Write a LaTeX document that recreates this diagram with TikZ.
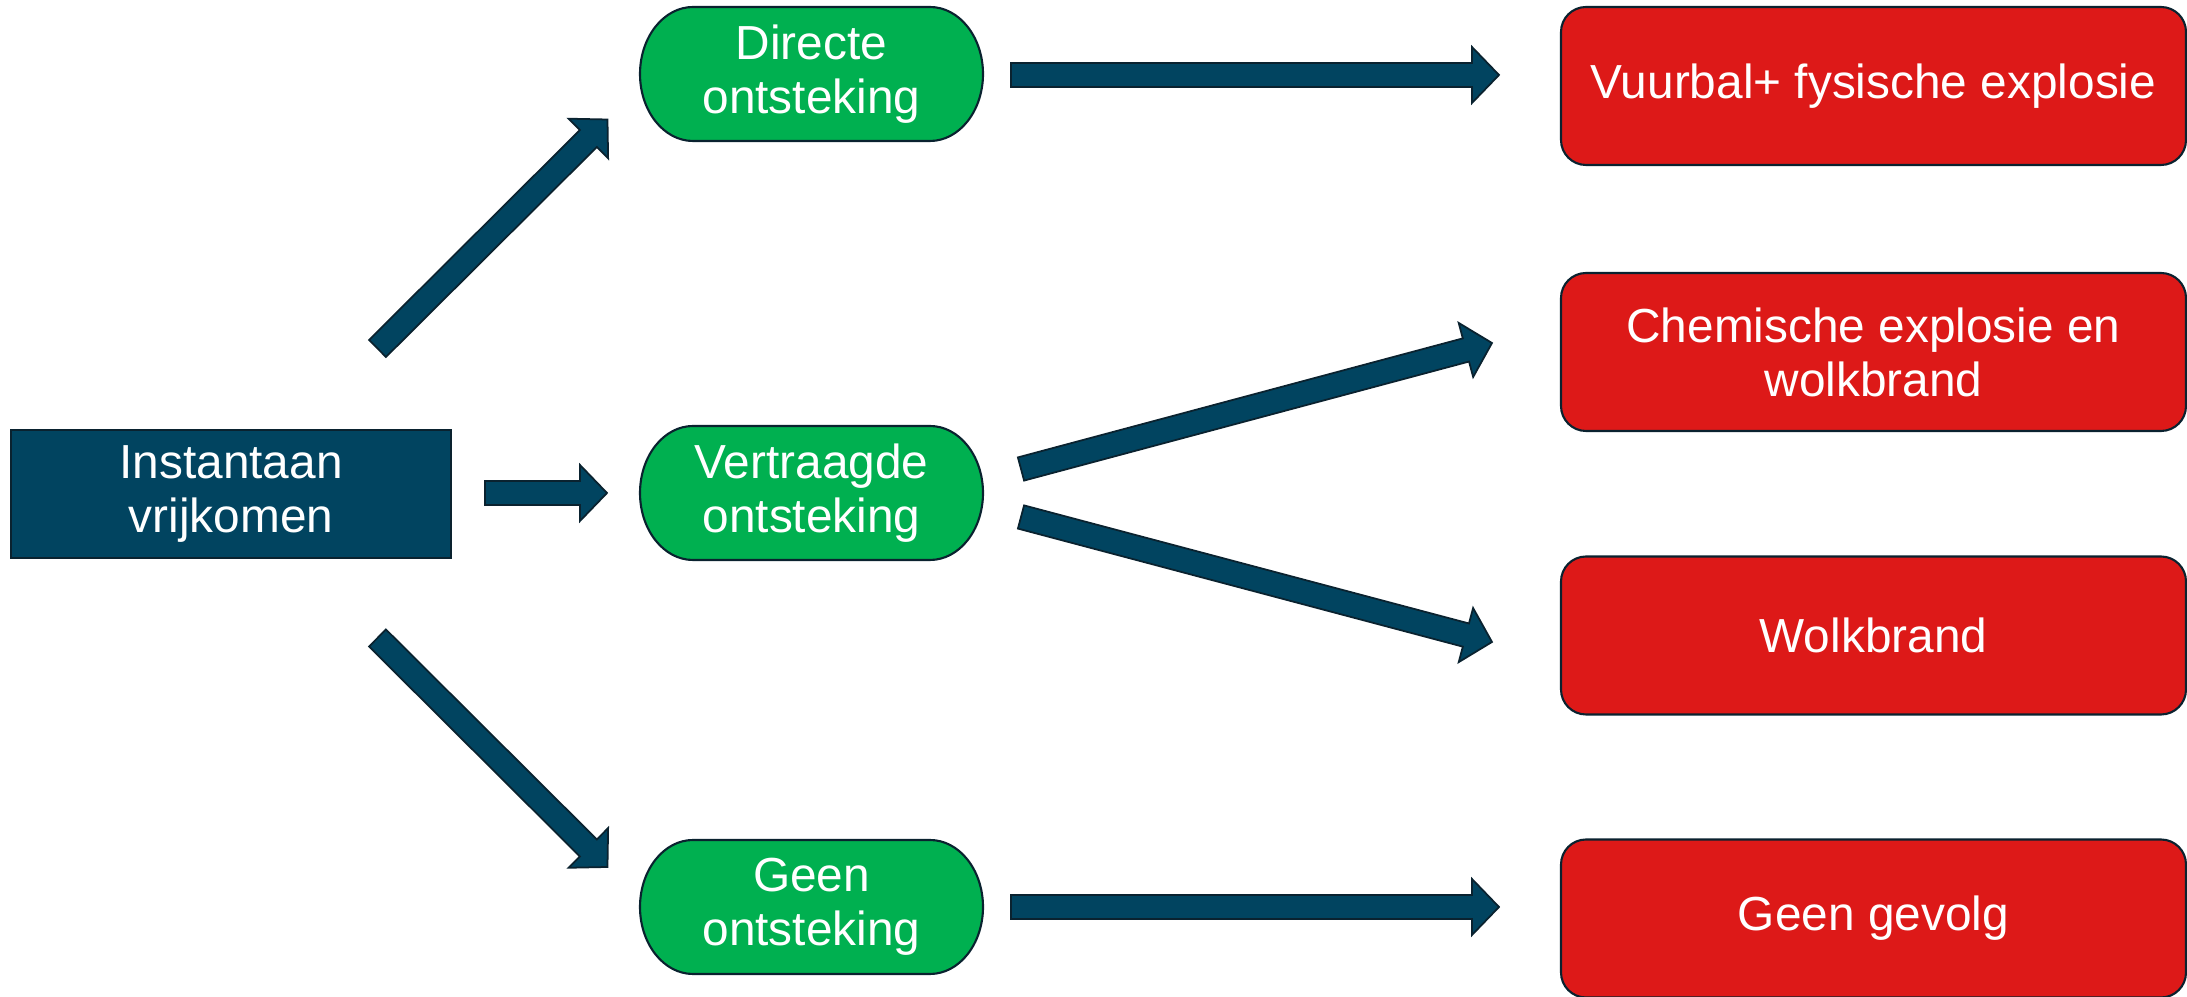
\documentclass[tikz,border=0pt]{standalone}
\usepackage{fontspec}
\setmainfont{Liberation Sans}
\usetikzlibrary{calc,positioning,backgrounds}
\definecolor{navy}{RGB}{1,68,96}
\definecolor{edgeline}{RGB}{10,34,47}
\definecolor{ignite}{RGB}{0,176,80}
\definecolor{effect}{RGB}{221,25,24}
\tikzset{
    every node/.style={font=\fontsize{13.6}{15.4}\selectfont, text=white, align=center, inner sep=0pt, outer sep=0pt},
    release/.style={rectangle, draw=edgeline, fill=navy, line width=0.6pt, minimum width=4.4cm, minimum height=1.28cm},
    ignition/.style={rectangle, minimum width=3.43cm, minimum height=1.34cm},
    ignitionshape/.style={draw=edgeline, fill=ignite, line width=0.6pt},
    outcome/.style={rectangle, rounded corners=0.25cm, draw=edgeline, fill=effect, line width=0.6pt, minimum width=6.25cm, minimum height=1.58cm},
    fat/.style={draw=edgeline, fill=navy, line width=0.5pt, line join=miter}
}
% block arrow from #1 to #2
\newcommand{\blockarrow}[2]{%
    \coordinate (h) at ($(#2)!0.27cm!(#1)$);
    \draw[fat] ($(#1)!0.12cm!90:(#2)$) -- ($(h)!0.12cm!-90:(#1)$) -- ($(h)!0.28cm!-90:(#1)$) -- (#2)
        -- ($(h)!0.28cm!90:(#1)$) -- ($(h)!0.12cm!90:(#1)$) -- ($(#1)!0.12cm!-90:(#2)$) -- cycle;}

\begin{document}
\begin{tikzpicture}
\useasboundingbox (0,0) rectangle (21.87,-9.97);
\node[release](src) at (2.31,-4.94){Instantaan\\vrijkomen};
\node[ignition](direct) at (8.115,-0.74){Directe\\ontsteking};
\node[ignition](delay) at (8.115,-4.93){Vertraagde\\ontsteking};
\node[ignition](none) at (8.115,-9.07){Geen\\ontsteking};
\node[outcome](fire) at (18.735,-0.86){Vuurbal+ fysische explosie};
\node[outcome](chem) at (18.735,-3.52){Chemische explosie en\\wolkbrand};
\node[outcome](cloud) at (18.735,-6.355){Wolkbrand};
\node[outcome](nothing) at (18.735,-9.185){Geen gevolg};
\begin{scope}[on background layer]
\foreach \n in {direct,delay,none}
    \draw[ignitionshape] ($(\n.north west)+(0.53,0)$) -- ($(\n.north east)+(-0.53,0)$)
        arc[start angle=90,end angle=-90,x radius=0.53cm,y radius=0.67cm]
        -- ($(\n.south west)+(0.53,0)$)
        arc[start angle=270,end angle=90,x radius=0.53cm,y radius=0.67cm] -- cycle;
\end{scope}
% arrow ends
\coordinate (a1s) at (3.775,-3.485); \coordinate (a1t) at (6.075,-1.195);
\coordinate (a2s) at (4.85,-4.93);   \coordinate (a2t) at (6.07,-4.93);
\coordinate (a3s) at (3.775,-6.38);  \coordinate (a3t) at (6.075,-8.67);
\coordinate (a4s) at (10.11,-0.75);  \coordinate (a4t) at (14.99,-0.75);
\coordinate (a5s) at (10.21,-4.69);  \coordinate (a5t) at (14.92,-3.43);
\coordinate (a6s) at (10.21,-5.17);  \coordinate (a6t) at (14.92,-6.42);
\coordinate (a7s) at (10.11,-9.07);  \coordinate (a7t) at (14.99,-9.07);
\foreach \s/\t in {a1s/a1t,a2s/a2t,a3s/a3t,a4s/a4t,a5s/a5t,a6s/a6t,a7s/a7t}
    {\blockarrow{\s}{\t}}
\end{tikzpicture}
\end{document}
